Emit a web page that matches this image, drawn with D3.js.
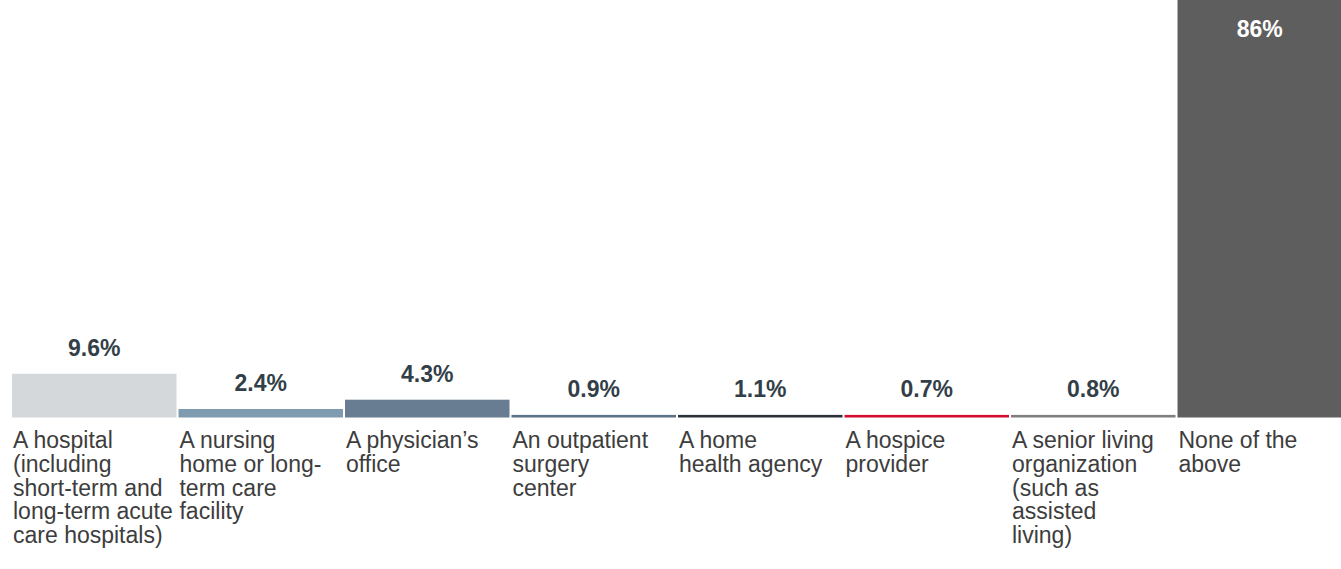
<!DOCTYPE html>
<html>
<head>
<meta charset="utf-8">
<script src="https://cdn.jsdelivr.net/npm/d3@7"></script>
<style>
  html, body { margin: 0; padding: 0; background: #ffffff; }
  svg { display: block; }
  text { font-family: "Liberation Sans", Arial, sans-serif; }
</style>
</head>
<body>
<svg id="chart" width="1341" height="569"></svg>
<script>
const categories = [
  "A hospital (including short-term and long-term acute care hospitals)",
  "A nursing home or long-term care facility",
  "A physician’s office",
  "An outpatient surgery center",
  "A home health agency",
  "A hospice provider",
  "A senior living organization (such as assisted living)",
  "None of the above"
];
const categoryLines = [
  ["A hospital", "(including", "short-term and", "long-term acute", "care hospitals)"],
  ["A nursing", "home or long-", "term care", "facility"],
  ["A physician’s", "office"],
  ["An outpatient", "surgery", "center"],
  ["A home", "health agency"],
  ["A hospice", "provider"],
  ["A senior living", "organization", "(such as", "assisted", "living)"],
  ["None of the", "above"]
];
const values = [9.6, 2.4, 4.3, 0.9, 1.1, 0.7, 0.8, 86];
const valueLabels = ["9.6%", "2.4%", "4.3%", "0.9%", "1.1%", "0.7%", "0.8%", "86%"];
const colors = ["#d5d8da", "#7e9bb0", "#687d92", "#5e7286", "#2c3238", "#d50c2f", "#7f7f7f", "#5e5e5e"];

const svg = d3.select("#chart");
const baseline = 417.5;

const x = d3.scaleBand()
  .domain(categories)
  .range([12, 1342])
  .paddingInner(0.012)
  .paddingOuter(0);

const y = d3.scaleLinear()
  .domain([0.66, 86])
  .range([baseline, 0]);

const minH = 2.6;
const data = categories.map((c, i) => ({ c, v: values[i], label: valueLabels[i], color: colors[i], lines: categoryLines[i] }));

const barTop = d => Math.min(y(d.v), baseline - minH);

svg.append("g").selectAll("rect")
  .data(data)
  .join("rect")
  .attr("x", d => x(d.c))
  .attr("width", x.bandwidth())
  .attr("y", barTop)
  .attr("height", d => baseline - barTop(d))
  .attr("fill", d => d.color);

// value labels
svg.append("g").selectAll("text")
  .data(data)
  .join("text")
  .attr("x", d => x(d.c) + x.bandwidth() / 2)
  .attr("y", d => d.v > 50 ? barTop(d) + 37 : barTop(d) - 17.5)
  .attr("text-anchor", "middle")
  .attr("font-size", "23px")
  .attr("font-weight", "bold")
  .attr("fill", d => d.v > 50 ? "#ffffff" : "#333f48")
  .text(d => d.label);

// category labels
const cat = svg.append("g").selectAll("text")
  .data(data)
  .join("text")
  .attr("x", d => x(d.c) + 1)
  .attr("y", 448)
  .attr("font-size", "23px")
  .attr("fill", "#3d3d3d");

cat.selectAll("tspan")
  .data(d => d.lines.map(l => ({ l, x0: x(d.c) + 1 })))
  .join("tspan")
  .attr("x", t => t.x0)
  .attr("dy", (t, i) => i === 0 ? 0 : 23.8)
  .text(t => t.l);
</script>
</body>
</html>
